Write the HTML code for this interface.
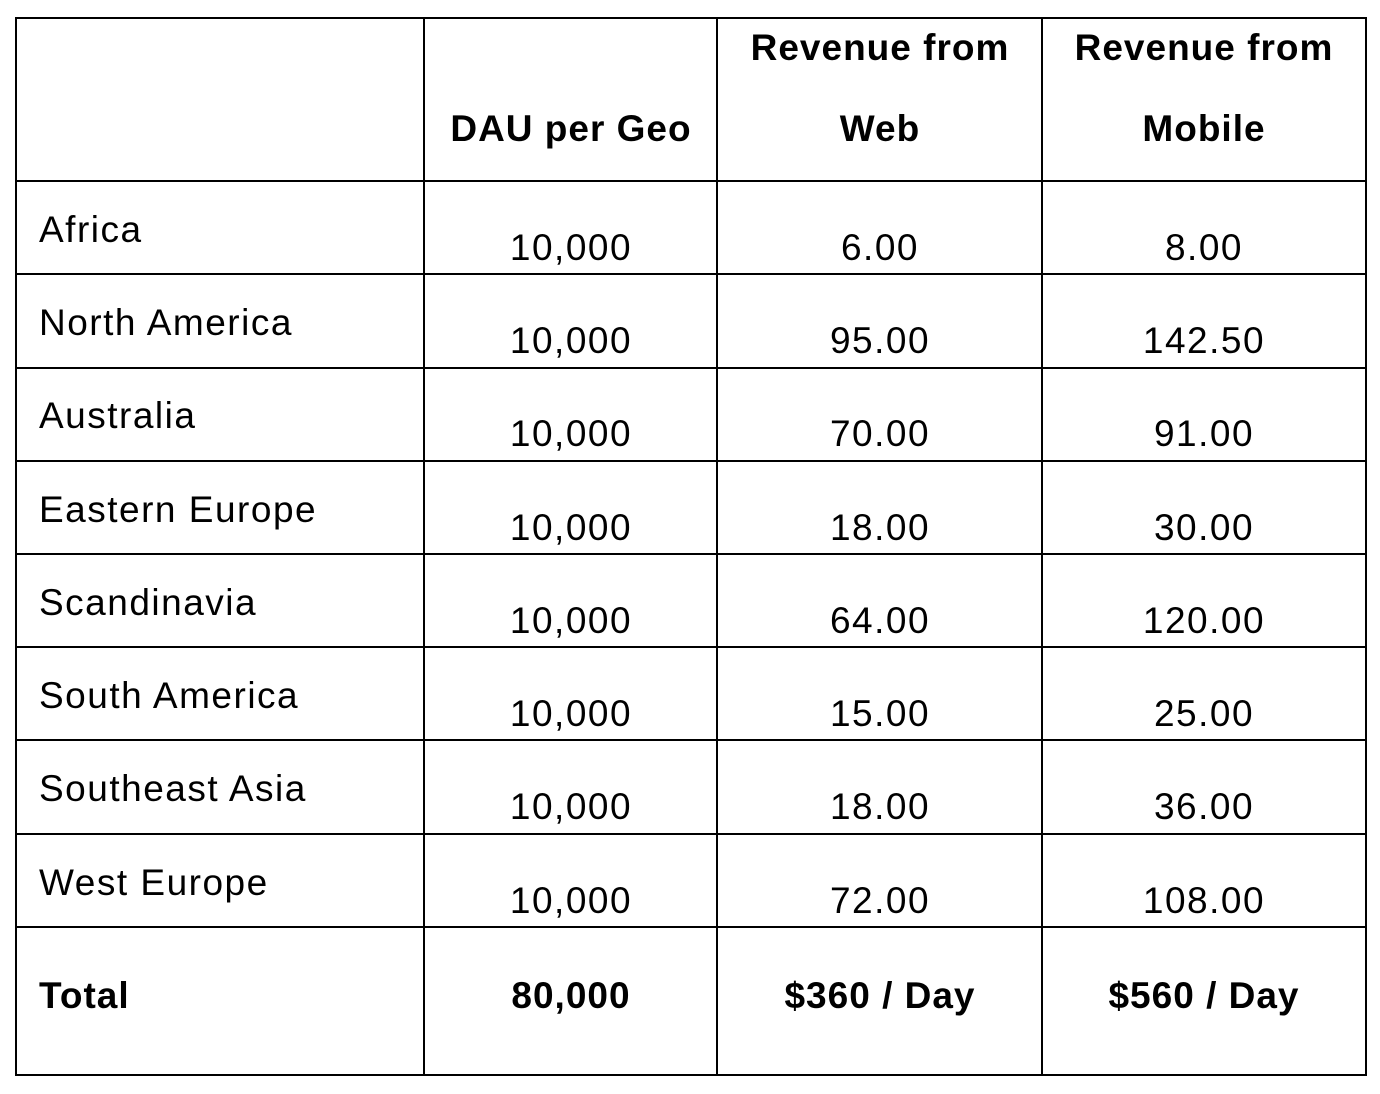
<!DOCTYPE html>
<html><head><meta charset="utf-8"><style>
html,body{margin:0;padding:0;background:#fff;}
svg{display:block;}
text{font-family:"Liberation Sans",Arial,sans-serif;font-size:37px;letter-spacing:1.5px;fill:#000;}
.b{font-weight:bold;letter-spacing:1px;}
.m{text-anchor:middle;}
</style></head><body>
<svg width="1380" height="1094" viewBox="0 0 1380 1094" xmlns="http://www.w3.org/2000/svg">
<g stroke="#000" stroke-width="2" fill="none">
<rect x="16" y="18" width="1350" height="1057"/>
<line x1="424" y1="18" x2="424" y2="1075"/>
<line x1="717" y1="18" x2="717" y2="1075"/>
<line x1="1042" y1="18" x2="1042" y2="1075"/>
<line x1="16" y1="181" x2="1366" y2="181"/>
<line x1="16" y1="274" x2="1366" y2="274"/>
<line x1="16" y1="368" x2="1366" y2="368"/>
<line x1="16" y1="461" x2="1366" y2="461"/>
<line x1="16" y1="554" x2="1366" y2="554"/>
<line x1="16" y1="647" x2="1366" y2="647"/>
<line x1="16" y1="740" x2="1366" y2="740"/>
<line x1="16" y1="834" x2="1366" y2="834"/>
<line x1="16" y1="927" x2="1366" y2="927"/>
</g>
<text class="b m" x="571" y="141">DAU per Geo</text>
<text class="b m" x="880" y="60">Revenue from</text>
<text class="b m" x="880" y="141">Web</text>
<text class="b m" x="1204" y="60">Revenue from</text>
<text class="b m" x="1204" y="141">Mobile</text>

<text x="39" y="242">Africa</text>
<text class="m" x="571" y="260">10,000</text><text class="m" x="880" y="260">6.00</text><text class="m" x="1204" y="260">8.00</text>

<text x="39" y="335">North America</text>
<text class="m" x="571" y="353">10,000</text><text class="m" x="880" y="353">95.00</text><text class="m" x="1204" y="353">142.50</text>

<text x="39" y="428">Australia</text>
<text class="m" x="571" y="446">10,000</text><text class="m" x="880" y="446">70.00</text><text class="m" x="1204" y="446">91.00</text>

<text x="39" y="522">Eastern Europe</text>
<text class="m" x="571" y="540">10,000</text><text class="m" x="880" y="540">18.00</text><text class="m" x="1204" y="540">30.00</text>

<text x="39" y="615">Scandinavia</text>
<text class="m" x="571" y="633">10,000</text><text class="m" x="880" y="633">64.00</text><text class="m" x="1204" y="633">120.00</text>

<text x="39" y="708">South America</text>
<text class="m" x="571" y="726">10,000</text><text class="m" x="880" y="726">15.00</text><text class="m" x="1204" y="726">25.00</text>

<text x="39" y="801">Southeast Asia</text>
<text class="m" x="571" y="819">10,000</text><text class="m" x="880" y="819">18.00</text><text class="m" x="1204" y="819">36.00</text>

<text x="39" y="895">West Europe</text>
<text class="m" x="571" y="913">10,000</text><text class="m" x="880" y="913">72.00</text><text class="m" x="1204" y="913">108.00</text>

<text class="b" x="39" y="1008">Total</text>
<text class="b m" x="571" y="1008">80,000</text>
<text class="b m" x="880" y="1008">$360 / Day</text>
<text class="b m" x="1204" y="1008">$560 / Day</text>
</svg>
</body></html>
